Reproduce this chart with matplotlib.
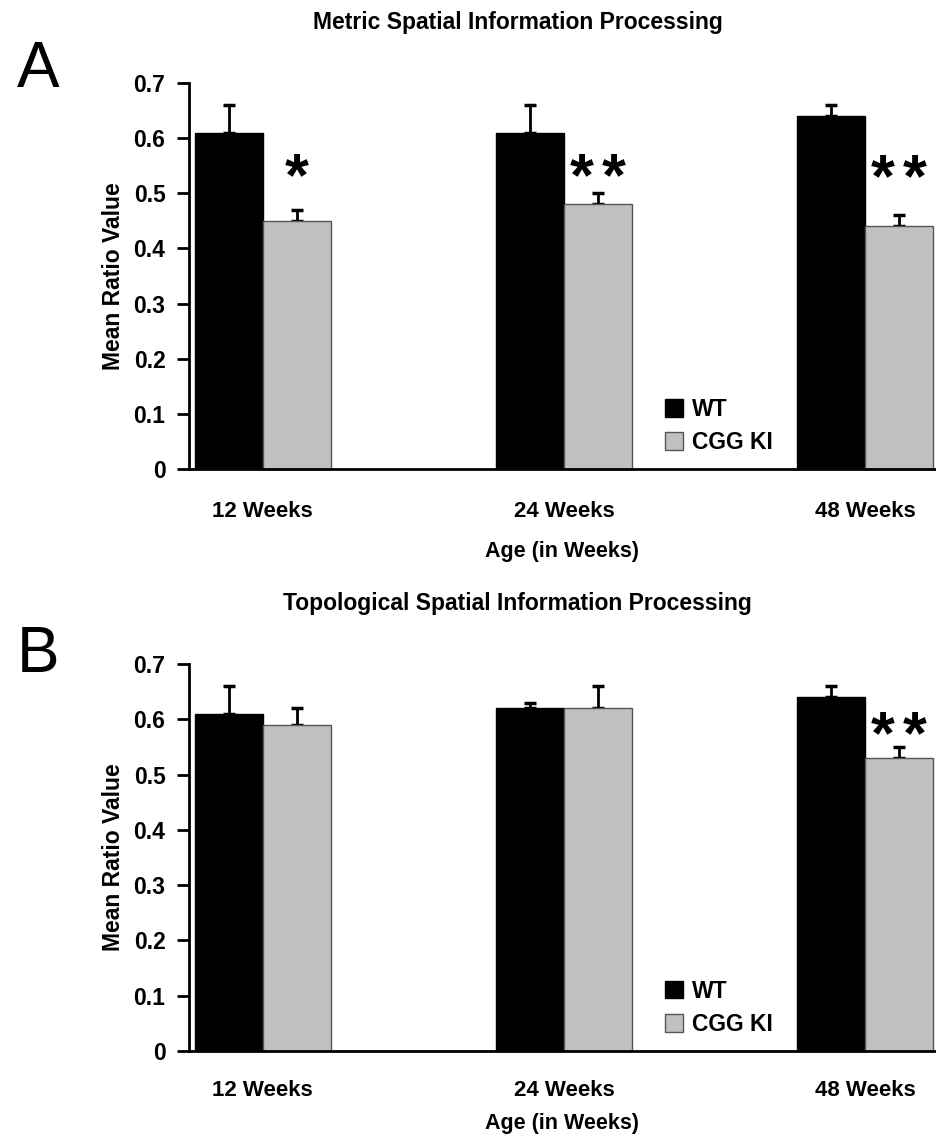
import matplotlib.pyplot as plt
import numpy as np

ages = ["12 Weeks", "24 Weeks", "48 Weeks"]
groups = ["WT", "CGG KI"]

metric_wt = [0.61, 0.61, 0.64]
metric_wt_err = [0.05, 0.05, 0.02]
metric_ki = [0.45, 0.48, 0.44]
metric_ki_err = [0.02, 0.02, 0.02]
metric_stars = [1, 2, 2]
metric_star_y = [0.525, 0.525, 0.523]

topo_wt = [0.61, 0.62, 0.64]
topo_wt_err = [0.05, 0.01, 0.02]
topo_ki = [0.59, 0.62, 0.53]
topo_ki_err = [0.03, 0.04, 0.02]
topo_stars = [0, 0, 2]
topo_star_y = [0, 0, 0.566]

yticks = [0, 0.1, 0.2, 0.3, 0.4, 0.5, 0.6, 0.7]
ytick_labels = ["0", "0.1", "0.2", "0.3", "0.4", "0.5", "0.6", "0.7"]

plt.rcParams['font.family'] = ['Liberation Sans', 'DejaVu Sans']

fig = plt.figure(figsize=(9.37, 11.44), dpi=100)
axA = fig.add_axes([0.2017, 0.590, 0.797, 0.3374])
axB = fig.add_axes([0.2017, 0.0815, 0.797, 0.338])

w = 0.225
gray = "#c0c0c0"


def panel(ax, wt, wt_err, ki, ki_err, stars, star_y, title, letter, letter_y, tpad, lpad):
    x = np.arange(len(ages))
    ax.bar(x - w / 2, wt, w, color="black", edgecolor="black", linewidth=1, label=groups[0], zorder=2)
    ax.bar(x + w / 2, ki, w, color=gray, edgecolor="#555555", linewidth=1, label=groups[1], zorder=2)
    ax.errorbar(x - w / 2, wt, yerr=[np.zeros(3), wt_err], fmt="none", ecolor="black",
                elinewidth=2, capsize=4, capthick=2.5, zorder=1)
    ax.errorbar(x + w / 2, ki, yerr=[np.zeros(3), ki_err], fmt="none", ecolor="black",
                elinewidth=2, capsize=4, capthick=2.5, zorder=1)
    for i in range(len(ages)):
        n = stars[i]
        offs = [0] if n == 1 else [-0.053, 0.053][:n]
        for o in offs:
            ax.text(x[i] + w / 2 + o, star_y[i], "*", ha="center", va="center",
                    fontsize=44, fontweight="bold")
    ax.set_xlim(-0.245, 2.235)
    ax.set_ylim(0, 0.7)
    ax.set_yticks(yticks)
    ax.set_yticklabels(ytick_labels, fontsize=16.5, fontweight="bold")
    ax.set_xticks(x)
    ax.set_xticklabels(ages, fontsize=16, fontweight="bold")
    ax.tick_params(axis="x", length=0, pad=tpad)
    ax.tick_params(axis="y", length=9, width=2, direction="out", pad=8)
    ax.spines["top"].set_visible(False)
    ax.spines["right"].set_visible(False)
    ax.spines["left"].set_linewidth(2)
    ax.spines["bottom"].set_linewidth(2)
    ax.set_ylabel("Mean Ratio Value", fontsize=16.5, fontweight="bold", labelpad=6)
    ax.set_xlabel("Age (in Weeks)", fontsize=15.5, fontweight="bold", labelpad=lpad)
    ax.set_title(title, fontsize=16.5, fontweight="bold", x=0.44, pad=39)
    ax.legend(loc="lower left", bbox_to_anchor=(0.61, -0.015), frameon=False,
              handlelength=0.8, handleheight=0.8, handletextpad=0.35, labelspacing=0.45,
              prop={"weight": "bold", "size": 16.5})
    fig.text(0.041, letter_y, letter, fontsize=46, ha="center", va="center")


panel(axA, metric_wt, metric_wt_err, metric_ki, metric_ki_err, metric_stars, metric_star_y,
      "Metric Spatial Information Processing", "A", 0.939, 23, 14)
panel(axB, topo_wt, topo_wt_err, topo_ki, topo_ki_err, topo_stars, topo_star_y,
      "Topological Spatial Information Processing", "B", 0.4275, 21, 9)

fig.savefig("out.png", dpi=100)
